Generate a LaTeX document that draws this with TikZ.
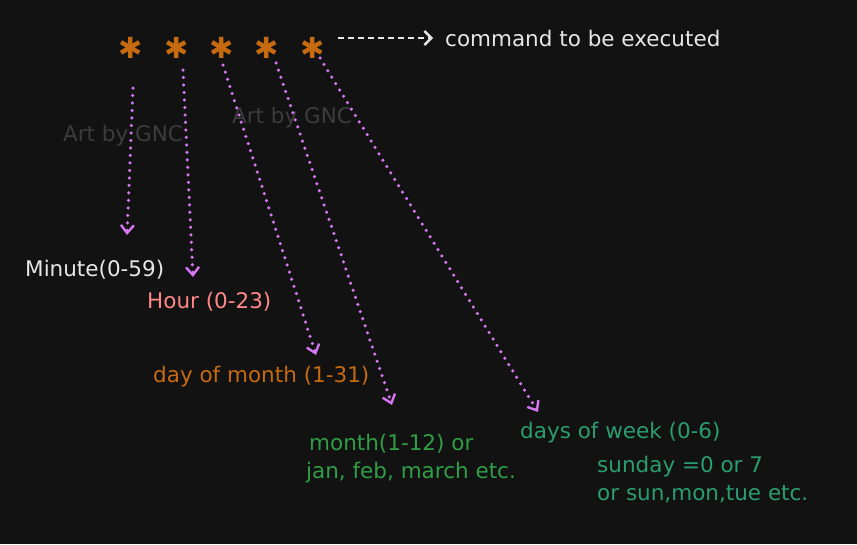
\documentclass[tikz,border=0pt]{standalone}
\usepackage{fontspec}
\setmainfont{DejaVu Sans}
\usetikzlibrary{arrows.meta}
\definecolor{bgdark}{HTML}{121212}
\definecolor{starorange}{HTML}{C66A10}
\definecolor{dotpink}{HTML}{D576F2}
\definecolor{hoursalmon}{HTML}{FF8787}
\definecolor{monthgreen}{HTML}{2F9E44}
\definecolor{weekgreen}{HTML}{2A9D70}
\definecolor{chalk}{HTML}{E6E6E6}
\definecolor{markgray}{HTML}{3C3C3C}
\tikzset{
  cronstar/.style={text=starorange, font=\fontsize{29}{29}\selectfont, inner sep=0pt},
  cronlabel/.style={anchor=west, inner sep=0pt, font=\fontsize{21.5}{26}\selectfont},
  field/.style={dotpink, line width=3.5pt, line cap=round, dash pattern=on 0pt off 7.5pt,
    -{Straight Barb[length=8pt,width=13pt,line width=2.4pt]}},
}
\begin{document}
\begin{tikzpicture}[x=1pt,y=-1pt]
      \fill[bgdark] (0,0) rectangle (857,544);
      \useasboundingbox (0,0) rectangle (857,544);
      % watermarks
      \node[cronlabel, text=markgray] (mark1) at (63,136) {Art by GNC};
      \node[cronlabel, text=markgray] (mark2) at (232,118) {Art by GNC};
      % the five fields
      \draw
        (131,48) node[cronstar] (s1){✱}
        (177,48) node[cronstar] (s2){✱}
        (222,48) node[cronstar] (s3){✱}
        (267,48) node[cronstar] (s4){✱}
        (313,48) node[cronstar] (s5){✱};
      \node[cronlabel, text=chalk] (cmd) at (445,38) {command to be executed};
      \node[cronlabel, text=chalk] (minute) at (25,270) {Minute(0-59)};
      \node[cronlabel, text=hoursalmon] (hour) at (147,302) {Hour (0-23)};
      \node[cronlabel, text=starorange] (dom) at (153,377) {day of month (1-31)};
      \node[cronlabel, text=monthgreen] (month) at (309,444) {month(1-12) or};
      \node[cronlabel, text=monthgreen] (month2) at (306,473) {jan, feb, march etc.};
      \node[cronlabel, text=weekgreen] (dow) at (520,433) {days of week (0-6)};
      \node[cronlabel, text=weekgreen] (dow2) at (597,467) {sunday =0 or 7};
      \node[cronlabel, text=weekgreen] (dow3) at (597,494) {or sun,mon,tue etc.};
      \coordinate (cmdtail) at (338,38);
      \draw[chalk, line width=2.4pt, dash pattern=on 6pt off 4pt,
        -{Straight Barb[length=7pt,width=14pt,line width=2.4pt]}, shorten >=12pt]
        (cmdtail) -- (cmd.west);
      \draw
        (133,88) coordinate (t1) (127,235) coordinate (h1)
        (183,70) coordinate (t2) (193,277) coordinate (h2)
        (223,65) coordinate (t3) (316,355) coordinate (h3)
        (276,63) coordinate (t4) (392,405) coordinate (h4)
        (320,58) coordinate (t5) (538,412) coordinate (h5);
      \begin{scope}[field]
        \draw (t1) to (h1);
        \draw (t2) to (h2);
        \draw (t3) to (h3);
        \draw (t4) to (h4);
        \draw (t5) to (h5);
      \end{scope}
    \end{tikzpicture}
\end{document}
